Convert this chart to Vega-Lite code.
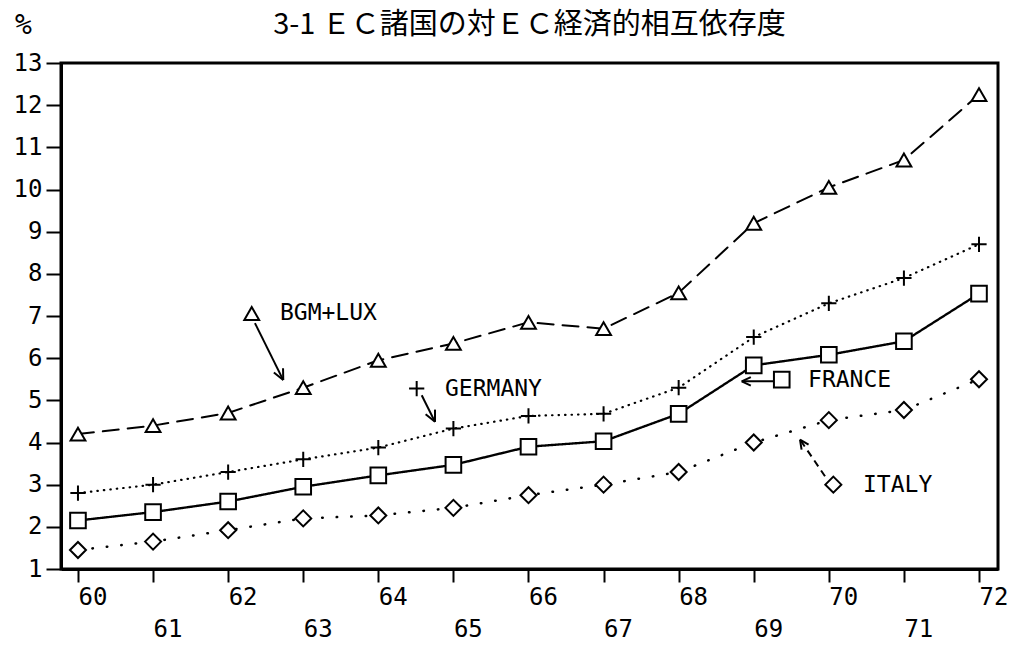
{
  "$schema": "https://vega.github.io/schema/vega-lite/v6.json",
  "width": 937,
  "height": 506,
  "autosize": "none",
  "padding": {"left": 61, "top": 63, "right": 13, "bottom": 82},
  "background": "white",
  "title": {
    "text": "3-1 ＥＣ諸国の対ＥＣ経済的相互依存度",
    "font": "Noto Sans CJK JP",
    "fontSize": 29,
    "fontWeight": "normal",
    "color": "black",
    "anchor": "middle",
    "frame": "group",
    "offset": -29
  },
  "config": {
    "view": {"stroke": "black", "strokeWidth": 3},
    "axis": {
      "domainColor": "black",
      "domainWidth": 3,
      "tickColor": "black",
      "tickWidth": 2,
      "grid": false,
      "labelFont": "DejaVu Sans Mono",
      "labelFontSize": 24,
      "labelColor": "black",
      "titleFont": "DejaVu Sans Mono",
      "titleFontSize": 28,
      "titleFontWeight": "normal",
      "titleColor": "black"
    }
  },
  "datasets": {
    "series": [
      {"series": "BGM+LUX", "year": 60, "value": 4.2},
      {"series": "BGM+LUX", "year": 61, "value": 4.4},
      {"series": "BGM+LUX", "year": 62, "value": 4.7},
      {"series": "BGM+LUX", "year": 63, "value": 5.3},
      {"series": "BGM+LUX", "year": 64, "value": 5.95},
      {"series": "BGM+LUX", "year": 65, "value": 6.35},
      {"series": "BGM+LUX", "year": 66, "value": 6.85},
      {"series": "BGM+LUX", "year": 67, "value": 6.7},
      {"series": "BGM+LUX", "year": 68, "value": 7.55},
      {"series": "BGM+LUX", "year": 69, "value": 9.2},
      {"series": "BGM+LUX", "year": 70, "value": 10.05},
      {"series": "BGM+LUX", "year": 71, "value": 10.7},
      {"series": "BGM+LUX", "year": 72, "value": 12.25},
      {"series": "GERMANY", "year": 60, "value": 2.8},
      {"series": "GERMANY", "year": 61, "value": 3.0},
      {"series": "GERMANY", "year": 62, "value": 3.3},
      {"series": "GERMANY", "year": 63, "value": 3.6},
      {"series": "GERMANY", "year": 64, "value": 3.88},
      {"series": "GERMANY", "year": 65, "value": 4.33},
      {"series": "GERMANY", "year": 66, "value": 4.63},
      {"series": "GERMANY", "year": 67, "value": 4.68},
      {"series": "GERMANY", "year": 68, "value": 5.3},
      {"series": "GERMANY", "year": 69, "value": 6.5},
      {"series": "GERMANY", "year": 70, "value": 7.3},
      {"series": "GERMANY", "year": 71, "value": 7.9},
      {"series": "GERMANY", "year": 72, "value": 8.7},
      {"series": "FRANCE", "year": 60, "value": 2.15},
      {"series": "FRANCE", "year": 61, "value": 2.35},
      {"series": "FRANCE", "year": 62, "value": 2.6},
      {"series": "FRANCE", "year": 63, "value": 2.95},
      {"series": "FRANCE", "year": 64, "value": 3.22},
      {"series": "FRANCE", "year": 65, "value": 3.47},
      {"series": "FRANCE", "year": 66, "value": 3.9},
      {"series": "FRANCE", "year": 67, "value": 4.03},
      {"series": "FRANCE", "year": 68, "value": 4.68},
      {"series": "FRANCE", "year": 69, "value": 5.83},
      {"series": "FRANCE", "year": 70, "value": 6.08},
      {"series": "FRANCE", "year": 71, "value": 6.4},
      {"series": "FRANCE", "year": 72, "value": 7.53},
      {"series": "ITALY", "year": 60, "value": 1.45},
      {"series": "ITALY", "year": 61, "value": 1.65},
      {"series": "ITALY", "year": 62, "value": 1.92},
      {"series": "ITALY", "year": 63, "value": 2.2},
      {"series": "ITALY", "year": 64, "value": 2.27},
      {"series": "ITALY", "year": 65, "value": 2.45},
      {"series": "ITALY", "year": 66, "value": 2.75},
      {"series": "ITALY", "year": 67, "value": 3.0},
      {"series": "ITALY", "year": 68, "value": 3.3},
      {"series": "ITALY", "year": 69, "value": 4.0},
      {"series": "ITALY", "year": 70, "value": 4.53},
      {"series": "ITALY", "year": 71, "value": 4.77},
      {"series": "ITALY", "year": 72, "value": 5.5}
    ],
    "keys": [
      {"series": "BGM+LUX", "year": 62.314, "value": 7.06, "label": "BGM+LUX", "lx": 62.69},
      {"series": "GERMANY", "year": 64.511, "value": 5.28, "label": "GERMANY", "lx": 64.888},
      {"series": "FRANCE", "year": 69.373, "value": 5.49, "label": "FRANCE", "lx": 69.723},
      {"series": "ITALY", "year": 70.06, "value": 3.0, "label": "ITALY", "lx": 70.455}
    ],
    "arrows": [
      {"year": 62.357, "value": 6.83, "year2": 62.734, "value2": 5.48},
      {"year": 62.734, "value": 5.48, "year2": 62.731, "value2": 5.76},
      {"year": 62.734, "value": 5.48, "year2": 62.609, "value2": 5.66},
      {"year": 64.578, "value": 5.12, "year2": 64.755, "value2": 4.49},
      {"year": 64.755, "value": 4.49, "year2": 64.755, "value2": 4.78},
      {"year": 64.755, "value": 4.49, "year2": 64.63, "value2": 4.67},
      {"year": 69.283, "value": 5.45, "year2": 68.84, "value2": 5.45},
      {"year": 68.84, "value": 5.45, "year2": 68.961, "value2": 5.55},
      {"year": 68.84, "value": 5.45, "year2": 68.961, "value2": 5.35},
      {"year": 69.616, "value": 4.07, "year2": 69.637, "value2": 3.83},
      {"year": 69.616, "value": 4.07, "year2": 69.73, "value2": 3.95}
    ],
    "arrowsDashed": [
      {"year": 69.949, "value": 3.2, "year2": 69.616, "value2": 4.07}
    ]
  },
  "encoding": {
    "x": {
      "field": "year",
      "type": "quantitative",
      "scale": {"domain": [59.774, 72.253], "nice": false, "zero": false},
      "axis": {
        "values": [60, 61, 62, 63, 64, 65, 66, 67, 68, 69, 70, 71, 72],
        "format": "d",
        "title": null,
        "tickSize": 13,
        "labelAlign": "left",
        "labelBaseline": "top",
        "labelPadding": {"condition": {"test": "datum.value % 2 === 1", "value": 35}, "value": 3}
      }
    },
    "y": {
      "field": "value",
      "type": "quantitative",
      "scale": {"domain": [1, 13], "nice": false, "zero": false},
      "axis": {
        "values": [1, 2, 3, 4, 5, 6, 7, 8, 9, 10, 11, 12, 13],
        "title": "%",
        "titleAngle": 0,
        "titleX": -38,
        "titleY": -38,
        "titleAlign": "center",
        "titleBaseline": "middle",
        "tickSize": 15,
        "labelPadding": 4
      }
    }
  },
  "layer": [
    {
      "data": {"name": "series"},
      "mark": {"type": "line", "color": "black", "strokeCap": "round"},
      "encoding": {
        "detail": {"field": "series"},
        "strokeDash": {
          "field": "series",
          "scale": {
            "domain": ["BGM+LUX", "GERMANY", "FRANCE", "ITALY"],
            "range": [[16, 9], [0.5, 6], [1, 0], [0.5, 14]]
          },
          "legend": null
        },
        "strokeWidth": {
          "field": "series",
          "scale": {
            "domain": ["BGM+LUX", "GERMANY", "FRANCE", "ITALY"],
            "range": [2, 2.5, 2, 3.5]
          },
          "legend": null
        }
      }
    },
    {
      "data": {"name": "series"},
      "mark": {"type": "point", "filled": true, "fill": "white", "stroke": "black", "strokeWidth": 2, "opacity": 1},
      "encoding": {
        "shape": {
          "field": "series",
          "scale": {
            "domain": ["BGM+LUX", "GERMANY", "FRANCE", "ITALY"],
            "range": ["triangle-up", "M-1,0L1,0M0,-1L0,1", "square", "diamond"]
          },
          "legend": null
        },
        "size": {
          "field": "series",
          "scale": {
            "domain": ["BGM+LUX", "GERMANY", "FRANCE", "ITALY"],
            "range": [220, 256, 280, 170]
          },
          "legend": null
        }
      }
    },
    {
      "data": {"name": "arrows"},
      "mark": {"type": "rule", "color": "black", "strokeWidth": 2},
      "encoding": {
        "x2": {"field": "year2"},
        "y2": {"field": "value2"}
      }
    },
    {
      "data": {"name": "arrowsDashed"},
      "mark": {"type": "rule", "color": "black", "strokeWidth": 2, "strokeDash": [7, 5]},
      "encoding": {
        "x2": {"field": "year2"},
        "y2": {"field": "value2"}
      }
    },
    {
      "data": {"name": "keys"},
      "mark": {"type": "point", "filled": true, "fill": "white", "stroke": "black", "strokeWidth": 2, "opacity": 1},
      "encoding": {
        "shape": {"field": "series", "legend": null},
        "size": {"field": "series", "legend": null}
      }
    },
    {
      "data": {"name": "keys"},
      "mark": {"type": "text", "align": "left", "baseline": "middle", "font": "DejaVu Sans Mono", "fontSize": 23, "color": "black"},
      "encoding": {
        "x": {"field": "lx", "type": "quantitative"},
        "text": {"field": "label"}
      }
    }
  ]
}
